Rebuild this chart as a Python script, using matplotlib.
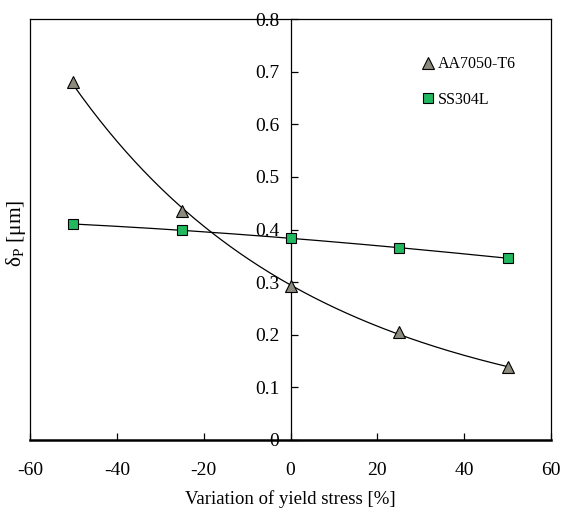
import numpy as np
import matplotlib.pyplot as plt

plt.rcParams['font.family'] = ['Liberation Serif', 'DejaVu Serif']
plt.rcParams['mathtext.fontset'] = 'custom'
plt.rcParams['mathtext.rm'] = 'Liberation Serif'
plt.rcParams['mathtext.it'] = 'Liberation Serif'
plt.rcParams['axes.unicode_minus'] = False

# yield stress variation [%]
variation = [-50, -25, 0, 25, 50]
# delta_P [um]
aa7050 = [0.680, 0.435, 0.293, 0.205, 0.138]
ss304l = [0.410, 0.399, 0.384, 0.364, 0.346]

x_ticks = [-60, -40, -20, 0, 20, 40, 60]
y_ticks = [0, 0.1, 0.2, 0.3, 0.4, 0.5, 0.6, 0.7, 0.8]

fig = plt.figure(figsize=(5.61, 5.21), dpi=100)
ax = fig.add_axes([0.0535, 0.1555, 0.9287, 0.808])

# smooth trend lines (quadratic fit of log values)
xs = np.linspace(-50, 50, 200)
for ys in (aa7050, ss304l):
    coef = np.polyfit(variation, np.log(ys), 2)
    ax.plot(xs, np.exp(np.polyval(coef, xs)), color='black', lw=0.9,
            zorder=2)

ax.plot(variation, aa7050, linestyle='none', marker='^', ms=8,
        mfc='#8c8a7c', mec='black', mew=0.8, label='AA7050-T6', zorder=3)
ax.plot(variation, ss304l, linestyle='none', marker='s', ms=7.5,
        mfc='#22b860', mec='black', mew=0.8, label='SS304L', zorder=3)

ax.set_xlim(-60, 60)
ax.set_ylim(0, 0.8)
ax.set_xticks(x_ticks)
ax.set_yticks(y_ticks)
ax.set_yticklabels([f'{v:g}' for v in y_ticks])

ax.spines['left'].set_position(('data', 0))
for s in ('left', 'top', 'right'):
    ax.spines[s].set_linewidth(0.9)
ax.spines['bottom'].set_linewidth(1.8)
# outer left border of the frame
ax.plot([0, 0], [0, 1], transform=ax.transAxes, color='black', lw=0.9,
        clip_on=False)

ax.tick_params(axis='y', direction='in', length=5, width=0.9, pad=8,
               labelsize=14)
ax.tick_params(axis='x', direction='in', length=5, width=0.9, pad=16,
               labelsize=14)

ax.set_xlabel('Variation of yield stress [%]', fontsize=13.5, labelpad=8)
ax.set_ylabel(r'$\delta_P$ [μm]', fontsize=15.5)
ax.yaxis.set_label_coords(-0.004, 0.49)

ax.legend(loc='upper left', bbox_to_anchor=(0.73, 0.93), frameon=False,
          fontsize=11.5, handletextpad=0.0, labelspacing=1.2,
          handlelength=1.2, borderpad=0)

fig.savefig('out.png', dpi=100)
